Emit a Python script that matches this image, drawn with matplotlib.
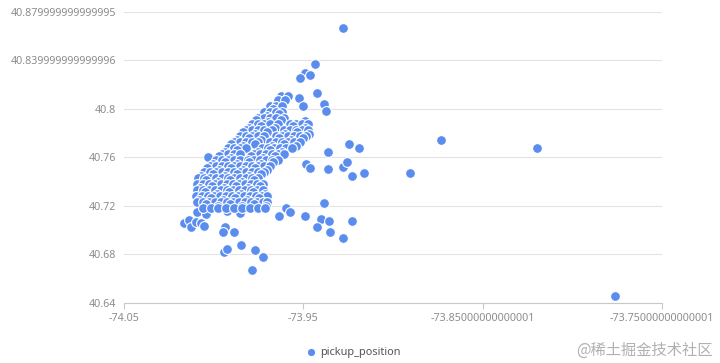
import matplotlib
matplotlib.use("Agg")
import matplotlib.pyplot as plt

# pickup points as [longitude, latitude]
pickup_position = [
    # outliers
    [-73.9277, 40.8668], [-73.9435, 40.8369], [-73.9491, 40.8292], [-73.9463, 40.8281],
    [-73.9518, 40.8253], [-73.9422, 40.8127], [-73.9383, 40.8039], [-73.9373, 40.7982],
    [-73.9524, 40.8086], [-73.9502, 40.8019], [-73.9624, 40.8108], [-73.9584, 40.8108],
    [-73.9361, 40.7642], [-73.9362, 40.7504], [-73.9279, 40.7524], [-73.9254, 40.7560],
    [-73.9244, 40.7706], [-73.9189, 40.7679], [-73.9486, 40.7543], [-73.9461, 40.7514],
    [-73.9227, 40.7446], [-73.9160, 40.7468], [-73.8730, 40.7745], [-73.8198, 40.7679],
    [-73.8905, 40.7471], [-73.7763, 40.6460], [-73.9385, 40.7221], [-73.9597, 40.7185],
    [-73.9577, 40.7151], [-73.9637, 40.7115], [-73.9489, 40.7115], [-73.9399, 40.7088],
    [-73.9358, 40.7078], [-73.9423, 40.7026], [-73.9354, 40.6985], [-73.9231, 40.7073],
    [-73.9280, 40.6935], [-73.9938, 40.7030], [-73.9946, 40.6985], [-73.9889, 40.6981],
    [-73.9849, 40.6875], [-73.9943, 40.6818], [-73.9927, 40.6845], [-73.9768, 40.6834],
    [-73.9724, 40.6775], [-73.9785, 40.6676], [-74.0163, 40.7055], [-74.0137, 40.7084],
    [-74.0127, 40.7028], [-74.0097, 40.7070], [-74.0073, 40.7059], [-74.0053, 40.7036],
    [-74.0094, 40.7152], [-74.0045, 40.7136], [-73.9926, 40.7158], [-73.9853, 40.7141],
    [-74.0030, 40.7607],
    # manhattan cluster
    [-73.9641, 40.8072], [-73.9602, 40.8072],
    [-73.9686, 40.8023], [-73.9652, 40.8023], [-73.9619, 40.8023],
    [-73.9669, 40.8001],
    [-73.9719, 40.7973], [-73.9686, 40.7973], [-73.9652, 40.7973], [-73.9619, 40.7973],
    [-73.9703, 40.7941], [-73.9636, 40.7955],
    [-73.9753, 40.7924], [-73.9719, 40.7924], [-73.9686, 40.7924], [-73.9652, 40.7924],
    [-73.9608, 40.7924],
    [-73.9764, 40.7905], [-73.9697, 40.7893], [-73.9624, 40.7906], [-73.9491, 40.7901],
    [-73.9786, 40.7874], [-73.9753, 40.7874], [-73.9719, 40.7874], [-73.9686, 40.7874],
    [-73.9641, 40.7874], [-73.9574, 40.7874], [-73.9541, 40.7874], [-73.9507, 40.7874],
    [-73.9474, 40.7874],
    [-73.9803, 40.7843], [-73.9736, 40.7857], [-73.9658, 40.7844], [-73.9558, 40.7856],
    [-73.9491, 40.7842],
    [-73.9820, 40.7825], [-73.9786, 40.7825], [-73.9753, 40.7825], [-73.9719, 40.7825],
    [-73.9675, 40.7825], [-73.9608, 40.7825], [-73.9574, 40.7825], [-73.9541, 40.7825],
    [-73.9507, 40.7825], [-73.9474, 40.7825],
    [-73.9836, 40.7807], [-73.9769, 40.7794], [-73.9703, 40.7806], [-73.9602, 40.7793],
    [-73.9535, 40.7807], [-73.9468, 40.7795],
    [-73.9853, 40.7776], [-73.9820, 40.7776], [-73.9786, 40.7776], [-73.9753, 40.7776],
    [-73.9719, 40.7776], [-73.9652, 40.7776], [-73.9619, 40.7776], [-73.9585, 40.7776],
    [-73.9552, 40.7776], [-73.9518, 40.7776], [-73.9485, 40.7776],
    [-73.9870, 40.7744], [-73.9803, 40.7757], [-73.9736, 40.7745], [-73.9636, 40.7758],
    [-73.9569, 40.7744], [-73.9502, 40.7756],
    [-73.9887, 40.7726], [-73.9853, 40.7726], [-73.9820, 40.7726], [-73.9786, 40.7726],
    [-73.9753, 40.7726], [-73.9686, 40.7726], [-73.9652, 40.7726], [-73.9619, 40.7726],
    [-73.9585, 40.7726], [-73.9552, 40.7726], [-73.9518, 40.7726],
    [-73.9903, 40.7707], [-73.9836, 40.7694], [-73.9769, 40.7708], [-73.9675, 40.7695],
    [-73.9608, 40.7707], [-73.9541, 40.7694],
    [-73.9920, 40.7677], [-73.9887, 40.7677], [-73.9853, 40.7677], [-73.9820, 40.7677],
    [-73.9730, 40.7677], [-73.9697, 40.7677], [-73.9663, 40.7677], [-73.9630, 40.7677],
    [-73.9597, 40.7677], [-73.9563, 40.7677],
    [-73.9937, 40.7645], [-73.9870, 40.7658], [-73.9753, 40.7646], [-73.9686, 40.7658],
    [-73.9619, 40.7645],
    [-73.9953, 40.7627], [-73.9920, 40.7627], [-73.9887, 40.7627], [-73.9853, 40.7627],
    [-73.9775, 40.7627], [-73.9742, 40.7627], [-73.9708, 40.7627], [-73.9675, 40.7627],
    [-73.9641, 40.7627], [-73.9608, 40.7627],
    [-73.9970, 40.7609], [-73.9903, 40.7596], [-73.9792, 40.7608], [-73.9725, 40.7595],
    [-73.9658, 40.7609],
    [-73.9987, 40.7578], [-73.9953, 40.7578], [-73.9920, 40.7578], [-73.9887, 40.7578],
    [-73.9853, 40.7578], [-73.9808, 40.7578], [-73.9775, 40.7578], [-73.9742, 40.7578],
    [-73.9708, 40.7578], [-73.9675, 40.7578], [-73.9641, 40.7578],
    [-74.0004, 40.7546], [-73.9937, 40.7559], [-73.9870, 40.7547], [-73.9803, 40.7560],
    [-73.9736, 40.7546], [-73.9669, 40.7559],
    [-74.0020, 40.7528], [-73.9987, 40.7528], [-73.9953, 40.7528], [-73.9920, 40.7528],
    [-73.9887, 40.7528], [-73.9853, 40.7528], [-73.9820, 40.7528], [-73.9786, 40.7528],
    [-73.9753, 40.7528], [-73.9719, 40.7528], [-73.9686, 40.7528],
    [-74.0037, 40.7510], [-73.9970, 40.7497], [-73.9903, 40.7511], [-73.9836, 40.7498],
    [-73.9769, 40.7510], [-73.9703, 40.7497],
    [-74.0054, 40.7479], [-74.0020, 40.7479], [-73.9987, 40.7479], [-73.9953, 40.7479],
    [-73.9920, 40.7479], [-73.9887, 40.7479], [-73.9853, 40.7479], [-73.9820, 40.7479],
    [-73.9786, 40.7479], [-73.9753, 40.7479], [-73.9719, 40.7479],
    [-74.0071, 40.7447], [-74.0004, 40.7460], [-73.9937, 40.7448], [-73.9870, 40.7461],
    [-73.9803, 40.7447], [-73.9736, 40.7460],
    [-74.0087, 40.7430], [-74.0054, 40.7430], [-74.0020, 40.7430], [-73.9987, 40.7430],
    [-73.9953, 40.7430], [-73.9920, 40.7430], [-73.9887, 40.7430], [-73.9853, 40.7430],
    [-73.9820, 40.7430], [-73.9786, 40.7430], [-73.9753, 40.7430],
    [-74.0043, 40.7411], [-73.9976, 40.7398], [-73.9909, 40.7412], [-73.9842, 40.7399],
    [-73.9775, 40.7411],
    [-74.0093, 40.7380], [-74.0059, 40.7380], [-74.0026, 40.7380], [-73.9992, 40.7380],
    [-73.9959, 40.7380], [-73.9926, 40.7380], [-73.9892, 40.7380], [-73.9859, 40.7380],
    [-73.9825, 40.7380], [-73.9792, 40.7380], [-73.9758, 40.7380], [-73.9725, 40.7380],
    [-74.0076, 40.7349], [-74.0009, 40.7362], [-73.9942, 40.7350], [-73.9875, 40.7363],
    [-73.9808, 40.7349], [-73.9742, 40.7362],
    [-74.0093, 40.7331], [-74.0059, 40.7331], [-74.0026, 40.7331], [-73.9992, 40.7331],
    [-73.9959, 40.7331], [-73.9926, 40.7331], [-73.9892, 40.7331], [-73.9859, 40.7331],
    [-73.9825, 40.7331], [-73.9792, 40.7331], [-73.9758, 40.7331], [-73.9725, 40.7331],
    [-74.0048, 40.7312], [-73.9981, 40.7299], [-73.9914, 40.7313], [-73.9847, 40.7300],
    [-73.9781, 40.7312], [-73.9714, 40.7299],
    [-74.0098, 40.7281], [-74.0065, 40.7281], [-74.0032, 40.7281], [-73.9998, 40.7281],
    [-73.9965, 40.7281], [-73.9931, 40.7281], [-73.9898, 40.7281], [-73.9864, 40.7281],
    [-73.9831, 40.7281], [-73.9797, 40.7281], [-73.9764, 40.7281], [-73.9730, 40.7281],
    [-73.9703, 40.7281],
    [-74.0082, 40.7250], [-74.0015, 40.7263], [-73.9948, 40.7251], [-73.9881, 40.7264],
    [-73.9814, 40.7250], [-73.9747, 40.7263],
    [-74.0093, 40.7232], [-74.0059, 40.7232], [-74.0026, 40.7232], [-73.9992, 40.7232],
    [-73.9959, 40.7232], [-73.9926, 40.7232], [-73.9892, 40.7232], [-73.9859, 40.7232],
    [-73.9825, 40.7232], [-73.9792, 40.7232], [-73.9758, 40.7232], [-73.9725, 40.7232],
    [-73.9703, 40.7232],
    [-74.0043, 40.7213], [-73.9976, 40.7200], [-73.9909, 40.7214], [-73.9842, 40.7201],
    [-73.9775, 40.7213], [-73.9708, 40.7200],
    [-74.0059, 40.7183], [-74.0015, 40.7183], [-73.9976, 40.7183], [-73.9931, 40.7183],
    [-73.9887, 40.7183], [-73.9842, 40.7183], [-73.9797, 40.7183], [-73.9753, 40.7183],
    [-73.9714, 40.7183],
]

series_name = "pickup_position"
x_ticks = [-74.05, -73.95, -73.85, -73.75]
x_tick_labels = ["-74.05", "-73.95", "-73.85000000000001", "-73.75000000000001"]
y_ticks = [40.64, 40.68, 40.72, 40.76, 40.80, 40.84, 40.88]
y_tick_labels = ["40.64", "40.68", "40.72", "40.76", "40.8",
                 "40.839999999999996", "40.879999999999995"]

blue = "#5b8def"
label_grey = "#8c8c8c"

plt.rcParams["font.family"] = ["Noto Sans", "DejaVu Sans"]

fig = plt.figure(figsize=(7.2, 3.63), dpi=100)
ax = fig.add_axes([124 / 720, 60 / 363, 538 / 720, 291.3 / 363])

lons = [p[0] for p in pickup_position]
lats = [p[1] for p in pickup_position]
sc = ax.scatter(lons, lats, s=50, c=blue, edgecolors="white", linewidths=0.8,
                zorder=3, clip_on=False, label=series_name)

ax.set_xlim(x_ticks[0], x_ticks[-1])
ax.set_ylim(y_ticks[0], y_ticks[-1])
ax.set_xticks(x_ticks)
ax.set_xticklabels(x_tick_labels)
ax.set_yticks(y_ticks)
ax.set_yticklabels(y_tick_labels)

ax.grid(axis="y", color="#e3e3e3", linewidth=0.8)
ax.set_axisbelow(True)
for side in ["top", "right", "left"]:
    ax.spines[side].set_visible(False)
ax.spines["bottom"].set_color("#c8c8c8")
ax.spines["bottom"].set_linewidth(0.8)
ax.tick_params(axis="x", colors="#c8c8c8", length=4, width=0.8, labelcolor=label_grey,
               labelsize=7.7, pad=3)
ax.tick_params(axis="y", length=0, labelcolor=label_grey, labelsize=7.7, pad=5.5)

fig.legend(handles=[sc], labels=[series_name], loc="center",
           bbox_to_anchor=(0.489, 1 - 352 / 363), frameon=False, fontsize=7.9,
           handletextpad=0.1, handlelength=1.5, markerscale=0.85,
           labelcolor="#555555")

fig.text(0.99, 1 - 350 / 363, "@稀土掘金技术社区", ha="right", va="center",
         fontsize=11, color="#b0b0b0",
         family=["Noto Sans CJK SC", "DejaVu Sans"])

fig.savefig("out.png", dpi=100)
